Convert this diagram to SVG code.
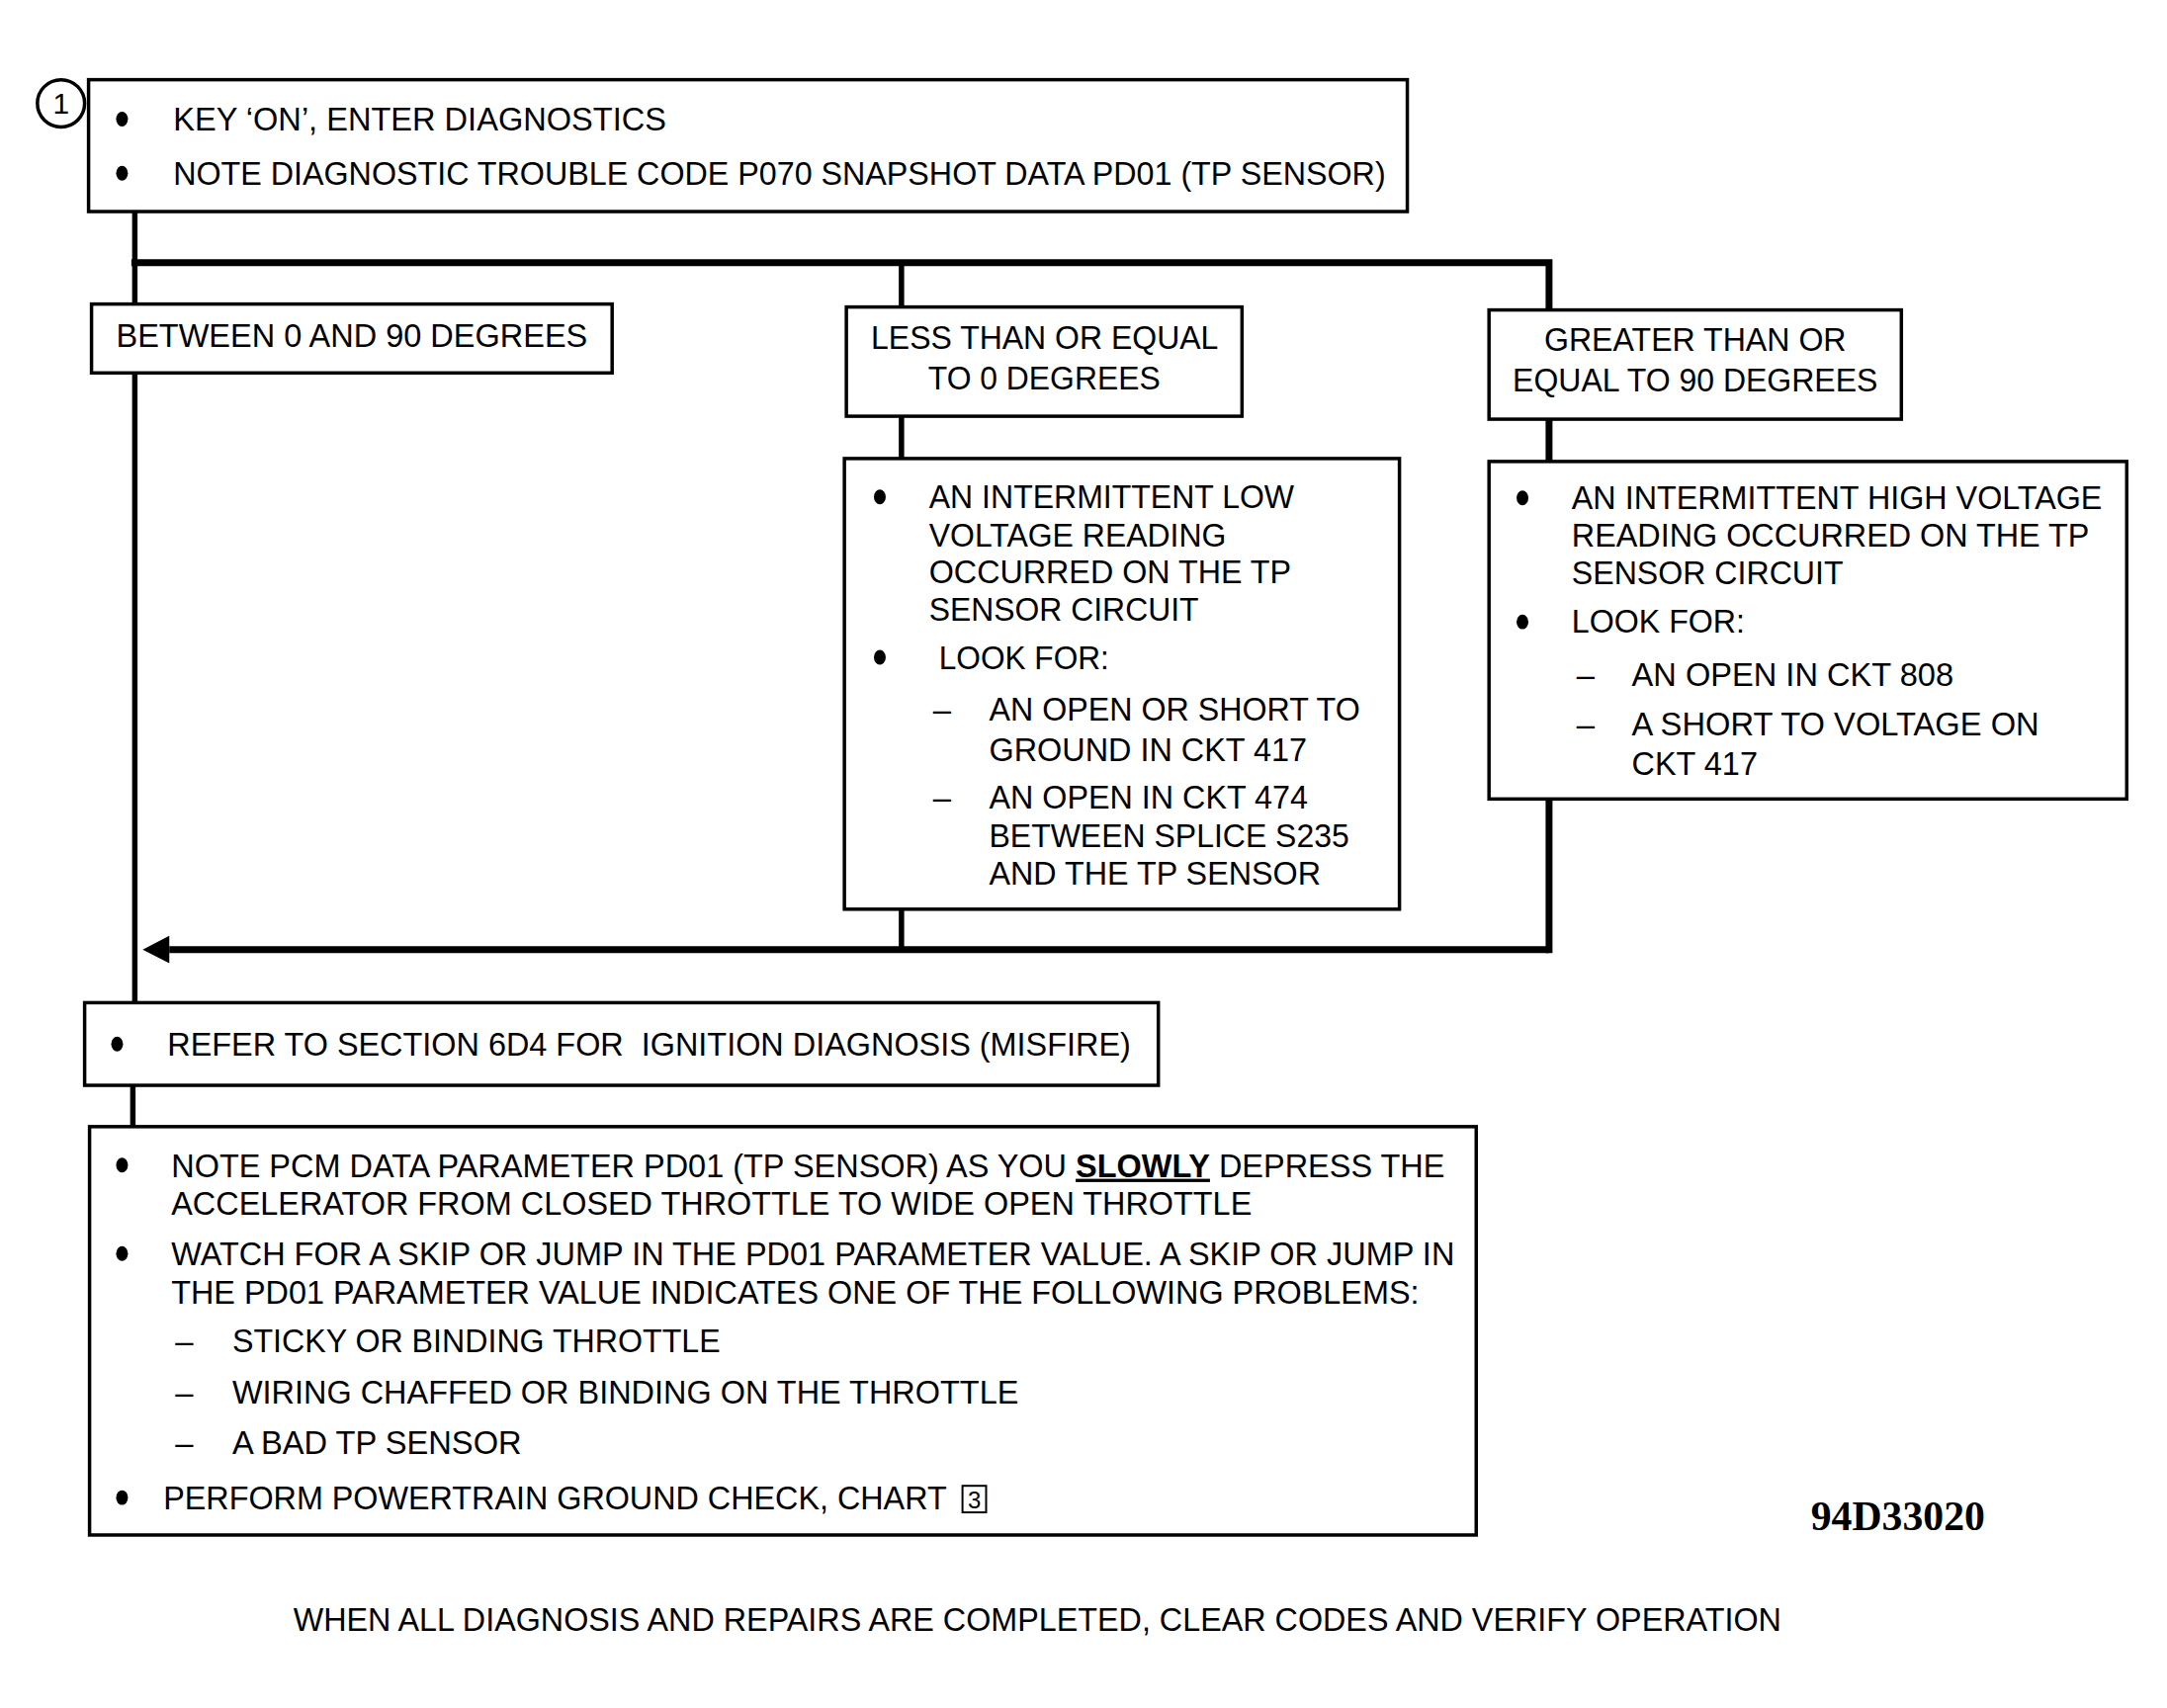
<svg xmlns="http://www.w3.org/2000/svg" width="2192" height="1728" viewBox="0 0 2192 1728">
<style>
.box{fill:#fff;stroke:#000;stroke-width:3.5}
.t{font-family:"Liberation Sans",Arial,sans-serif;font-size:33px;fill:#000;white-space:pre}
.c{text-anchor:middle}
.bus{stroke:#000;stroke-width:7;fill:none;stroke-linecap:square}
.vl{stroke:#000;stroke-width:5.5;fill:none}
.dot{fill:#000}
</style>
<defs>
<ellipse id="b" cx="0" cy="0" rx="6" ry="7.5" class="dot"/>
</defs>
<rect width="2192" height="1728" fill="#fff"/>
<g transform="scale(0.9955)">
<g id="connectors">
<line class="vl" x1="137" y1="215" x2="137" y2="1019"/>
<line class="vl" x1="135" y1="1103" x2="135" y2="1145"/>
<polyline class="bus" points="137,267 1574,267 1574,965"/>
<line class="vl" x1="916" y1="267" x2="916" y2="965"/>
<line class="bus" x1="1574" y1="965" x2="172" y2="965" style="stroke-linecap:butt"/>
<path d="M145,965 L172,951 L172,979 Z" fill="#000"/>
</g>

<g id="n1">
<circle cx="62" cy="105" r="24" fill="#fff" stroke="#000" stroke-width="3.5"/>
<text class="t c" x="62" y="116" style="font-size:30px">1</text>
<rect class="box" x="90" y="81" width="1340" height="134"/>
<use href="#b" x="124" y="121"/>
<text class="t" x="176" y="133" textLength="501" lengthAdjust="spacingAndGlyphs">KEY ‘ON’, ENTER DIAGNOSTICS</text>
<use href="#b" x="124" y="176"/>
<text class="t" x="176" y="188" textLength="1232" lengthAdjust="spacingAndGlyphs">NOTE DIAGNOSTIC TROUBLE CODE P070 SNAPSHOT DATA PD01 (TP SENSOR)</text>
</g>

<g id="between">
<rect class="box" x="93" y="309" width="529" height="70"/>
<text class="t" x="118" y="353" textLength="479" lengthAdjust="spacingAndGlyphs">BETWEEN 0 AND 90 DEGREES</text>
</g>

<g id="less">
<rect class="box" x="860" y="312" width="402" height="111"/>
<text class="t" x="885" y="355" textLength="353" lengthAdjust="spacingAndGlyphs">LESS THAN OR EQUAL</text>
<text class="t" x="943" y="396" textLength="236" lengthAdjust="spacingAndGlyphs">TO 0 DEGREES</text>
</g>

<g id="greater">
<rect class="box" x="1513" y="315" width="419" height="111"/>
<text class="t" x="1569" y="357" textLength="307" lengthAdjust="spacingAndGlyphs">GREATER THAN OR</text>
<text class="t" x="1537" y="398" textLength="371" lengthAdjust="spacingAndGlyphs">EQUAL TO 90 DEGREES</text>
</g>

<g id="low">
<rect class="box" x="858" y="466" width="564" height="458"/>
<use href="#b" x="894" y="505"/>
<text class="t" x="944" y="516" textLength="371" lengthAdjust="spacingAndGlyphs">AN INTERMITTENT LOW</text>
<text class="t" x="944" y="555" textLength="302" lengthAdjust="spacingAndGlyphs">VOLTAGE READING</text>
<text class="t" x="944" y="593" textLength="368" lengthAdjust="spacingAndGlyphs">OCCURRED ON THE TP</text>
<text class="t" x="944" y="631" textLength="274" lengthAdjust="spacingAndGlyphs">SENSOR CIRCUIT</text>
<use href="#b" x="894" y="668"/>
<text class="t" x="954" y="680" textLength="173" lengthAdjust="spacingAndGlyphs">LOOK FOR:</text>
<text class="t" x="948" y="732">–</text>
<text class="t" x="1005" y="732" textLength="377" lengthAdjust="spacingAndGlyphs">AN OPEN OR SHORT TO</text>
<text class="t" x="1005" y="773" textLength="323" lengthAdjust="spacingAndGlyphs">GROUND IN CKT 417</text>
<text class="t" x="948" y="822">–</text>
<text class="t" x="1005" y="822" textLength="324" lengthAdjust="spacingAndGlyphs">AN OPEN IN CKT 474</text>
<text class="t" x="1005" y="861" textLength="366" lengthAdjust="spacingAndGlyphs">BETWEEN SPLICE S235</text>
<text class="t" x="1005" y="899" textLength="337" lengthAdjust="spacingAndGlyphs">AND THE TP SENSOR</text>
</g>

<g id="high">
<rect class="box" x="1513" y="469" width="648" height="343"/>
<use href="#b" x="1547" y="506"/>
<text class="t" x="1597" y="517" textLength="539" lengthAdjust="spacingAndGlyphs">AN INTERMITTENT HIGH VOLTAGE</text>
<text class="t" x="1597" y="556" textLength="526" lengthAdjust="spacingAndGlyphs">READING OCCURRED ON THE TP</text>
<text class="t" x="1597" y="594" textLength="276" lengthAdjust="spacingAndGlyphs">SENSOR CIRCUIT</text>
<use href="#b" x="1547" y="632"/>
<text class="t" x="1597" y="643" textLength="176" lengthAdjust="spacingAndGlyphs">LOOK FOR:</text>
<text class="t" x="1602" y="697">–</text>
<text class="t" x="1658" y="697" textLength="327" lengthAdjust="spacingAndGlyphs">AN OPEN IN CKT 808</text>
<text class="t" x="1602" y="747">–</text>
<text class="t" x="1658" y="747" textLength="414" lengthAdjust="spacingAndGlyphs">A SHORT TO VOLTAGE ON</text>
<text class="t" x="1658" y="788" textLength="128" lengthAdjust="spacingAndGlyphs">CKT 417</text>
</g>

<g id="refer">
<rect class="box" x="86" y="1019" width="1091" height="84"/>
<use href="#b" x="119" y="1061"/>
<text class="t" x="170" y="1073" textLength="979" lengthAdjust="spacingAndGlyphs">REFER TO SECTION 6D4 FOR  IGNITION DIAGNOSIS (MISFIRE)</text>
</g>

<g id="check">
<rect class="box" x="91" y="1145" width="1409" height="415"/>
<use href="#b" x="124" y="1184"/>
<text class="t" x="174" y="1196" textLength="1294" lengthAdjust="spacingAndGlyphs">NOTE PCM DATA PARAMETER PD01 (TP SENSOR) AS YOU <tspan font-weight="bold" text-decoration="underline">SLOWLY</tspan> DEPRESS THE</text>
<text class="t" x="174" y="1235" textLength="1098" lengthAdjust="spacingAndGlyphs">ACCELERATOR FROM CLOSED THROTTLE TO WIDE OPEN THROTTLE</text>
<use href="#b" x="124" y="1274"/>
<text class="t" x="174" y="1286" textLength="1304" lengthAdjust="spacingAndGlyphs">WATCH FOR A SKIP OR JUMP IN THE PD01 PARAMETER VALUE. A SKIP OR JUMP IN</text>
<text class="t" x="174" y="1325" textLength="1268" lengthAdjust="spacingAndGlyphs">THE PD01 PARAMETER VALUE INDICATES ONE OF THE FOLLOWING PROBLEMS:</text>
<text class="t" x="178" y="1374">–</text>
<text class="t" x="236" y="1374" textLength="496" lengthAdjust="spacingAndGlyphs">STICKY OR BINDING THROTTLE</text>
<text class="t" x="178" y="1426">–</text>
<text class="t" x="236" y="1426" textLength="799" lengthAdjust="spacingAndGlyphs">WIRING CHAFFED OR BINDING ON THE THROTTLE</text>
<text class="t" x="178" y="1478">–</text>
<text class="t" x="236" y="1478" textLength="294" lengthAdjust="spacingAndGlyphs">A BAD TP SENSOR</text>
<use href="#b" x="124" y="1522"/>
<text class="t" x="166" y="1534" textLength="796" lengthAdjust="spacingAndGlyphs">PERFORM POWERTRAIN GROUND CHECK, CHART</text>
<rect x="978" y="1510" width="24" height="27" fill="none" stroke="#000" stroke-width="2"/>
<text class="t c" x="990" y="1533" style="font-size:24px">3</text>
</g>

<g id="labels">
<text x="1840" y="1555" textLength="177" lengthAdjust="spacingAndGlyphs" style="font-family:'Liberation Serif','Times New Roman',serif;font-weight:bold;font-size:42px">94D33020</text>
<text class="t" x="298" y="1657" textLength="1512" lengthAdjust="spacingAndGlyphs">WHEN ALL DIAGNOSIS AND REPAIRS ARE COMPLETED, CLEAR CODES AND VERIFY OPERATION</text>
</g>
</g>
</svg>
